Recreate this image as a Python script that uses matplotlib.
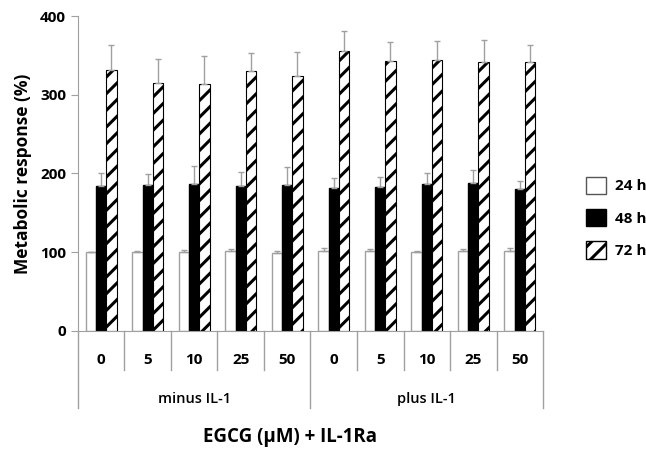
import numpy as np
import matplotlib.pyplot as plt
import matplotlib.transforms as mtransforms
from matplotlib.patches import Patch

plt.rcParams['font.family'] = ['Open Sans', 'DejaVu Sans']
plt.rcParams['font.weight'] = 'bold'
plt.rcParams['hatch.linewidth'] = 2.2

# --- data ---
doses = ['0', '5', '10', '25', '50', '0', '5', '10', '25', '50']
groups = ['minus IL-1', 'plus IL-1']
series = ['24 h', '48 h', '72 h']

h24 = [100, 100, 100, 101, 99, 102, 101, 100, 101, 102]
h24_err = [0, 1, 3, 3, 2, 4, 3, 2, 3, 3]
h48 = [184, 185, 187, 184, 185, 181, 183, 187, 188, 180]
h48_err = [16, 14, 22, 18, 23, 13, 13, 14, 17, 10]
h72 = [331, 315, 314, 330, 324, 355, 343, 344, 341, 341]
h72_err = [32, 31, 35, 23, 30, 26, 24, 24, 28, 22]

gray = '#a0a0a0'
fig = plt.figure(figsize=(6.46, 4.51), dpi=100)
ax = fig.add_axes([0.1207, 0.2661, 0.7199, 0.6984])

x = np.arange(len(doses))
w = 0.22
err_kw = dict(ecolor=gray, elinewidth=1, capsize=2, capthick=1)

ax.bar(x - w, h24, w, color='white', edgecolor=gray, linewidth=1,
       yerr=[np.zeros(10), h24_err], error_kw=err_kw)
ax.bar(x, h48, w, color='black', edgecolor='black', linewidth=1,
       yerr=[np.zeros(10), h48_err], error_kw=err_kw)
ax.bar(x + w, h72, w, color='white', edgecolor='black', linewidth=0.8,
       hatch='//', yerr=[np.zeros(10), h72_err], error_kw=err_kw)

ax.set_xlim(-0.5, 9.5)
ax.set_ylim(0, 400)
ax.set_yticks([0, 100, 200, 300, 400])
ax.tick_params(axis='y', direction='out', length=5, color=gray, labelsize=11)
ax.set_xticks([])
for s in ['top', 'right']:
    ax.spines[s].set_visible(False)
ax.spines['left'].set_color(gray)
ax.spines['bottom'].set_color(gray)
ax.set_ylabel('Metabolic response (%)', fontsize=12.5, fontweight='bold', labelpad=6)

# --- two-level category axis ---
trans = mtransforms.blended_transform_factory(ax.transData, ax.transAxes)
px = 1.0 / (0.6984 * 451)  # one pixel in axes-fraction units
for i in range(len(doses) + 1):
    edge = i - 0.5
    low = -77 * px if i in (0, 5, 10) else -39 * px
    ax.plot([edge, edge], [0, low], transform=trans, color=gray,
            linewidth=1, clip_on=False)
for i, d in enumerate(doses):
    ax.text(i, -29 * px, d, transform=trans, ha='center', va='center',
            fontsize=11, fontweight='bold')
for j, g in enumerate(groups):
    ax.text(2 + 5 * j, -68 * px, g, transform=trans, ha='center', va='center',
            fontsize=10.5, fontweight='semibold')

fig.text(290 / 646, 1 - 437 / 451, 'EGCG (µM) + IL-1Ra', ha='center', va='center',
         fontsize=13.5, fontweight='bold')

# --- legend ---
handles = [Patch(facecolor='white', edgecolor='#555555', linewidth=1),
           Patch(facecolor='black', edgecolor='black'),
           Patch(facecolor='white', edgecolor='black', hatch='//')]
fig.legend(handles, series, loc='upper left', bbox_to_anchor=(578 / 646, 1 - 169 / 451),
           frameon=False, borderpad=0, handlelength=1.35, handleheight=1.35,
           labelspacing=1.0, handletextpad=0.6, prop={'size': 11, 'weight': 'bold'})

fig.savefig('out.png', dpi=100)
